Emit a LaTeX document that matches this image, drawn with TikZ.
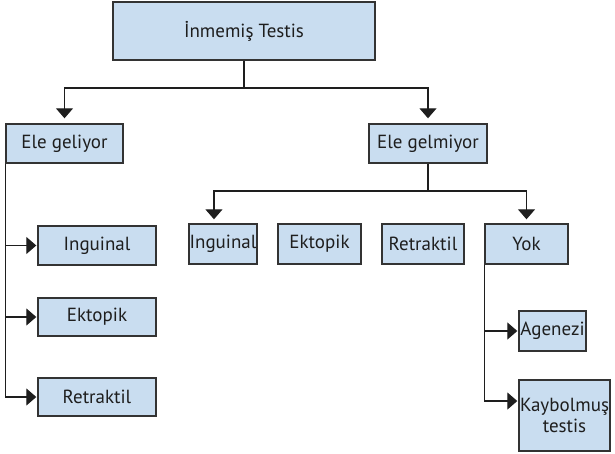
\documentclass[tikz,border=0pt]{standalone}
\usepackage{fontspec}
\setmainfont{PT Sans}
\usetikzlibrary{arrows.meta,calc}
\definecolor{boxfill}{HTML}{C9DDF0}
\definecolor{boxline}{HTML}{333333}
\definecolor{ink}{HTML}{1E1E1E}
\tikzset{
  cat/.style={draw=boxline, line width=1.4pt, fill=boxfill, inner sep=0pt,
    text=ink, font=\fontsize{19}{21.5}\selectfont, align=center},
  link/.style={draw=ink, line width=1.2pt},
  tip/.style={link, -{Triangle[width=17pt,length=10pt]}},
}
\begin{document}
\begin{tikzpicture}[x=1pt,y=-1pt]
\useasboundingbox (0,0) rectangle (615,454);

% root
\node[cat, minimum width=262pt, minimum height=58pt] (root) at (244,31) {İnmemiş Testis};

% first level
\node[cat, minimum width=117pt, minimum height=39pt] (gel)  at (64.5,143.5) {Ele geliyor};
\node[cat, minimum width=118pt, minimum height=39pt] (ngel) at (428,143.5) {Ele gelmiyor};

% palpable branch
\node[cat, minimum width=118pt, minimum height=39pt] (gin) at (97,245.5) {Inguinal};
\node[cat, minimum width=118pt, minimum height=38pt] (gek) at (97,317) {Ektopik};
\node[cat, minimum width=118pt, minimum height=38pt] (gre) at (97,397) {Retraktil};

% non-palpable branch
\node[cat, minimum width=68pt, minimum height=40pt] (nin) at (223,244) {Inguinal};
\node[cat, minimum width=83pt, minimum height=40pt] (nek) at (319.5,244) {Ektopik};
\node[cat, minimum width=82pt, minimum height=40pt] (nre) at (423,244) {Retraktil};
\node[cat, minimum width=83pt, minimum height=40pt] (yok) at (526.5,244) {Yok};

% absent testis
\node[cat, minimum width=67pt, minimum height=40pt] (age) at (552.5,331) {Agenezi};
\node[cat, minimum width=91pt, minimum height=71pt] (kay) at (564.5,415.5) {Kaybolmuş\\testis};

% junction points
\coordinate (j1) at (root.south |- 0,88);
\coordinate (j2) at (ngel.south |- 0,191);
\coordinate (ninTop) at ($(nin.north west)!0.37!(nin.north east)$);
\coordinate (kayIn) at ($(kay.north west)!0.3!(kay.south west)$);

% root to first level
\draw[link] (root.south) -- (j1);
\draw[tip, shorten >=5pt] (j1) -| (gel.north);
\draw[tip, shorten >=5pt] (j1) -| (ngel.north);

% palpable subtypes
\draw[link] (gel.south west) -- (gel.south west |- gre.west);
\draw[tip, shorten >=1pt] (gel.south west |- gin.west) -- (gin.west);
\draw[tip, shorten >=1pt] (gel.south west |- gek.west) -- (gek.west);
\draw[tip, shorten >=1pt] (gel.south west |- gre.west) -- (gre.west);

% non-palpable subtypes
\draw[link] (ngel.south) -- (j2);
\draw[tip, shorten >=4pt] (j2) -| (ninTop);
\draw[tip, shorten >=4pt] (j2) -| (yok.north);

% absent testis subtypes
\draw[link] (yok.south west) -- (yok.south west |- kayIn);
\draw[tip, shorten >=1pt] (yok.south west |- age.west) -- (age.west);
\draw[tip, shorten >=1pt] (yok.south west |- kayIn) -- (kayIn);
\end{tikzpicture}
\end{document}
